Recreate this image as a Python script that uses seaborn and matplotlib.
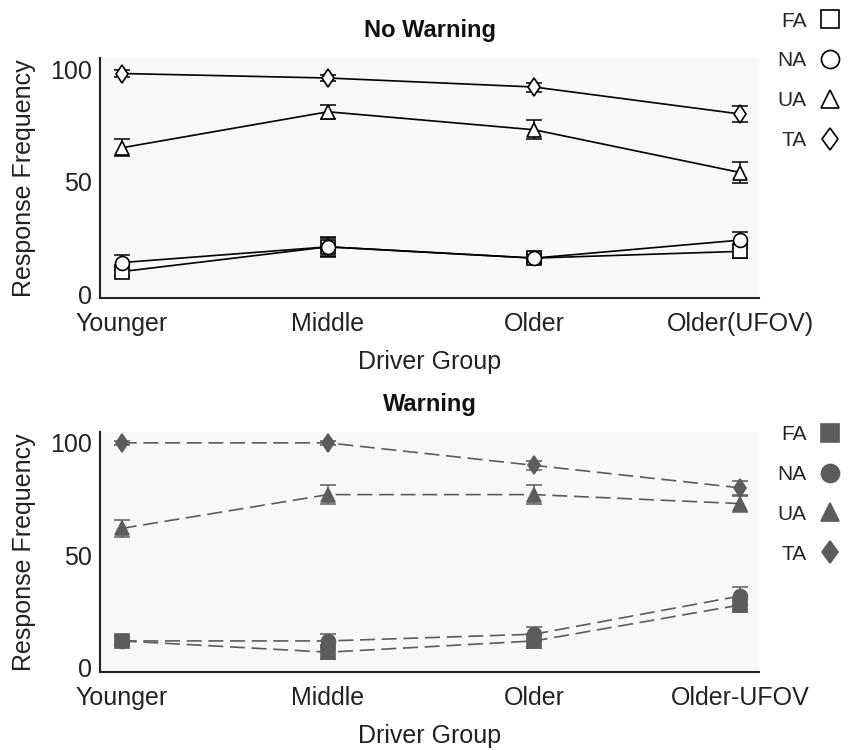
import pandas as pd
import matplotlib
matplotlib.use("Agg")
import matplotlib.pyplot as plt
from matplotlib.lines import Line2D
from matplotlib.markers import MarkerStyle
from matplotlib.transforms import Affine2D
import seaborn as sns

# Driver groups (x categories) for each panel
GROUPS_TOP = ["Younger", "Middle", "Older", "Older(UFOV)"]
GROUPS_BOTTOM = ["Younger", "Middle", "Older", "Older-UFOV"]
RESPONSES = ["FA", "NA", "UA", "TA"]

# No Warning - mean response frequency and error
nw_fa = [10, 21, 16, 19]
nw_na = [14, 21, 16, 24]
nw_ua = [65, 81, 73, 54]
nw_ta = [98, 96, 92, 80]
nw_fa_err = [2, 4, 2, 3]
nw_na_err = [3.5, 4.5, 2, 3.5]
nw_ua_err = [3.8, 3, 4.2, 4.8]
nw_ta_err = [1.5, 1.5, 2, 3.5]

# Warning - mean response frequency and error
w_fa = [12, 7, 12, 28]
w_na = [12, 12, 15, 32]
w_ua = [62, 77, 77, 73]
w_ta = [100, 100, 90, 80]
w_fa_err = [2, 3, 3, 3]
w_na_err = [2, 3, 3, 4]
w_ua_err = [3.7, 4.2, 4.2, 3.5]
w_ta_err = [1, 1, 2, 3]

# diamond a bit narrower than it is tall
DIAMOND = MarkerStyle("D", transform=Affine2D().scale(0.66, 0.88))
MARKERS = {"FA": "s", "NA": "o", "UA": "^", "TA": DIAMOND}


def make_frame(groups, series, errors):
    rows = []
    for resp, vals, errs in zip(RESPONSES, series, errors):
        for g, v, e in zip(groups, vals, errs):
            rows.append({"Group": g, "Response": resp, "Freq": v, "Err": e})
    return pd.DataFrame(rows)


def draw_panel(ax, df, title, line_color, face_color, dashed):
    palette = {r: line_color for r in RESPONSES}
    dashes = {r: ((9, 4) if dashed else "") for r in RESPONSES}
    sns.lineplot(data=df, x="Group", y="Freq", hue="Response", style="Response",
                 hue_order=RESPONSES, style_order=RESPONSES, palette=palette,
                 markers=MARKERS, dashes=dashes, markersize=10, lw=1.2,
                 markeredgecolor=line_color, markerfacecolor=face_color,
                 markeredgewidth=1.2, errorbar=None, legend=False, ax=ax, zorder=3)
    for resp in RESPONSES:
        sub = df[df["Response"] == resp]
        ax.errorbar(sub["Group"], sub["Freq"], yerr=sub["Err"], fmt="none",
                    ecolor=line_color, elinewidth=1.1, capsize=6, capthick=1.1, zorder=2)

    ax.set_facecolor("#f8f8f8")
    ax.set_xlim(-0.105, 3.09)
    ax.set_ylim(-1.8, 105)
    ax.set_yticks([0, 50, 100])
    ax.tick_params(direction="in", length=5, width=1.2, labelsize=18, colors="#222222")
    ax.tick_params(axis="x", pad=10)
    ax.tick_params(axis="y", pad=6)
    for s in ["top", "right"]:
        ax.spines[s].set_visible(False)
    for s in ["left", "bottom"]:
        ax.spines[s].set_color("#222222")
        ax.spines[s].set_linewidth(1.5)
    ax.grid(False)
    ax.set_title(title, fontsize=17, fontweight="bold", pad=15, color="#111111")
    ax.set_xlabel("Driver Group", fontsize=18, labelpad=10, color="#222222")
    ax.set_ylabel("Response Frequency", fontsize=18, labelpad=10, color="#222222")

    handles = [Line2D([], [], linestyle="none", marker=MARKERS[r], markersize=13,
                      markeredgecolor=line_color, markerfacecolor=face_color,
                      markeredgewidth=1.2) for r in RESPONSES]
    return handles


sns.set_theme(style="white")
plt.rcParams["font.family"] = ["Liberation Sans", "DejaVu Sans"]

fig, axes = plt.subplots(2, 1, figsize=(8.48, 7.5), dpi=100)
fig.subplots_adjust(left=0.118, right=0.895, top=0.923, bottom=0.104, hspace=0.555)

df_top = make_frame(GROUPS_TOP, [nw_fa, nw_na, nw_ua, nw_ta],
                    [nw_fa_err, nw_na_err, nw_ua_err, nw_ta_err])
df_bot = make_frame(GROUPS_BOTTOM, [w_fa, w_na, w_ua, w_ta],
                    [w_fa_err, w_na_err, w_ua_err, w_ta_err])

h_top = draw_panel(axes[0], df_top, "No Warning", "black", "white", False)
h_bot = draw_panel(axes[1], df_bot, "Warning", "#5c5c5c", "#5c5c5c", True)

leg_kw = dict(loc="upper left", markerfirst=False, frameon=False, fontsize=15,
              labelspacing=1.0, handletextpad=0.5, handlelength=1.2)
axes[0].legend(h_top, RESPONSES, bbox_to_anchor=(1.0, 1.27), **leg_kw)
axes[1].legend(h_bot, RESPONSES, bbox_to_anchor=(1.0, 1.105), **leg_kw)

fig.savefig("out.png", dpi=100)
